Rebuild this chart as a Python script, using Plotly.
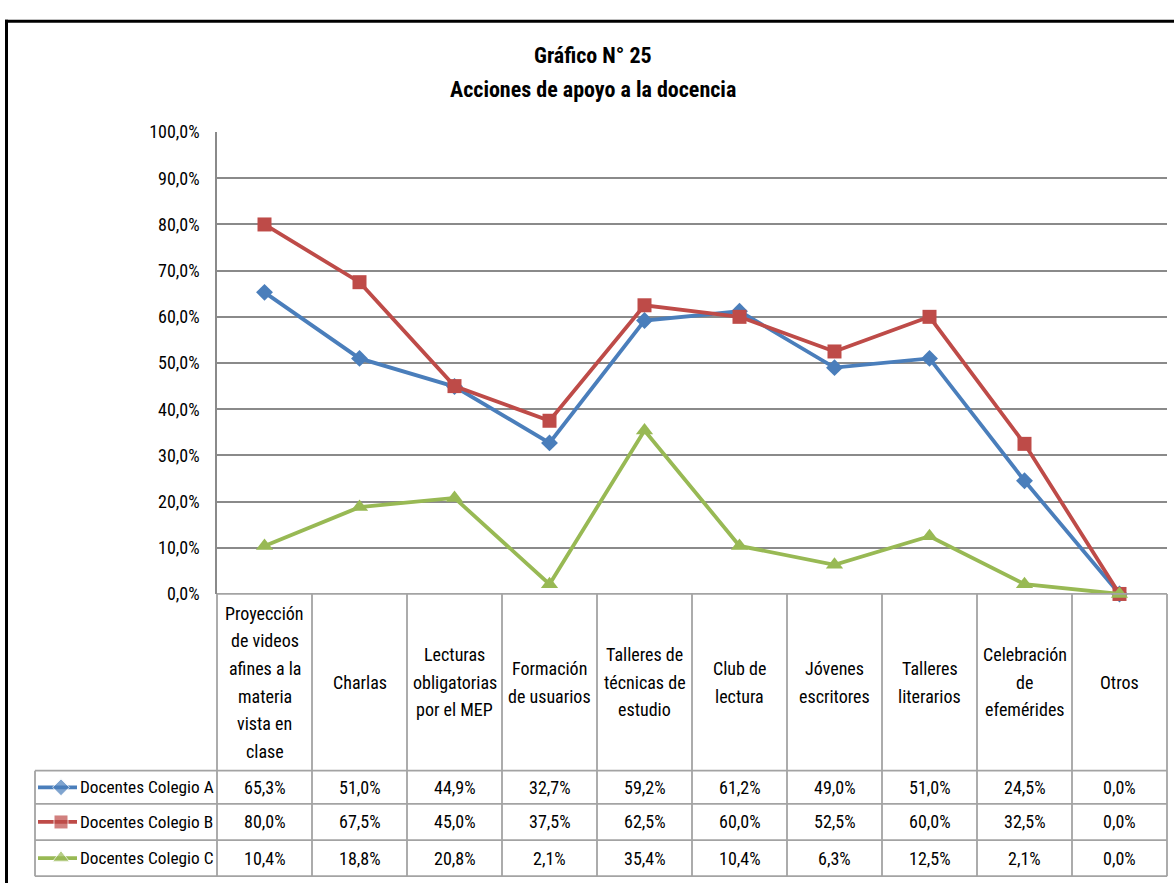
import plotly.graph_objects as go

# ---------------- data ----------------
categories = [
    "Proyección<br>de videos<br>afines a la<br>materia<br>vista en<br>clase",
    "Charlas",
    "Lecturas<br>obligatorias<br>por el MEP",
    "Formación<br>de usuarios",
    "Talleres de<br>técnicas de<br>estudio",
    "Club de<br>lectura",
    "Jóvenes<br>escritores",
    "Talleres<br>literarios",
    "Celebración<br>de<br>efemérides",
    "Otros",
]
series_names = ["Docentes Colegio A", "Docentes Colegio B", "Docentes Colegio C"]
colegio_a = [65.3, 51.0, 44.9, 32.7, 59.2, 61.2, 49.0, 51.0, 24.5, 0.0]
colegio_b = [80.0, 67.5, 45.0, 37.5, 62.5, 60.0, 52.5, 60.0, 32.5, 0.0]
colegio_c = [10.4, 18.8, 20.8, 2.1, 35.4, 10.4, 6.3, 12.5, 2.1, 0.0]
y_ticks = [0, 10, 20, 30, 40, 50, 60, 70, 80, 90, 100]
title_lines = ["Gráfico N° 25", "Acciones de apoyo a la docencia"]

# ---------------- styling / layout ----------------
W, H = 1174, 893
PLOT_L, PLOT_R = 217, 1167
PLOT_T, PLOT_B = 124, 597
TABLE_L = 35
ROW_LINES = [778, 812, 849, 886]
FONT = "Liberation Sans Narrow, Roboto Condensed, Roboto, Arial, sans-serif"
TXT = "#000000"
GRID = "#8a8a8a"
TLINE = "#a3a3a3"
colors = ["#4A7EBB", "#BE4B48", "#98B954"]
symbols = ["diamond", "square", "triangle-up"]
msizes = [13, 14, 15]
all_values = [colegio_a, colegio_b, colegio_c]

n = len(categories)
xs = list(range(n))
col_w = (PLOT_R - PLOT_L) / n

fig = go.Figure()

# main series
for name, vals, c, s, ms in zip(series_names, all_values, colors, symbols, msizes):
    fig.add_trace(go.Scatter(
        x=xs, y=vals, name=name, mode="lines+markers",
        line=dict(color=c, width=3.8),
        marker=dict(symbol=s, size=ms, color=c),
        cliponaxis=False, showlegend=False,
        xaxis="x", yaxis="y",
    ))

# legend keys in table (pixel overlay axes)
for i, (c, s, ms) in enumerate(zip(colors, symbols, msizes)):
    yc = (ROW_LINES[i] + ROW_LINES[i + 1]) / 2
    fig.add_trace(go.Scatter(
        x=[38, 61, 77], y=[yc, yc, yc], mode="lines+markers",
        line=dict(color=c, width=3.8),
        marker=dict(symbol=s, size=[0, ms, 0], color=c),
        showlegend=False, hoverinfo="skip", cliponaxis=False,
        xaxis="x2", yaxis="y2",
    ))

shapes = []
annotations = []

def line(x0, y0, x1, y1, color, width):
    shapes.append(dict(type="line", xref="x2", yref="y2", x0=x0, y0=y0,
                       x1=x1, y1=y1, line=dict(color=color, width=width),
                       layer="below"))

# table grid
for k in range(n + 1):
    xk = PLOT_L + k * col_w
    line(xk, PLOT_B, xk, ROW_LINES[-1], TLINE, 1.8)
line(TABLE_L, ROW_LINES[0], TABLE_L, ROW_LINES[-1], TLINE, 1.8)
for yk in ROW_LINES:
    line(TABLE_L, yk, PLOT_R, yk, TLINE, 1.8)
line(PLOT_L, PLOT_B, PLOT_R, PLOT_B, TLINE, 1.8)

# outer black frame (left and top)
shapes.append(dict(type="line", xref="x2", yref="y2", x0=6.5, y0=9, x1=6.5, y1=H,
                   line=dict(color="#000", width=3)))
shapes.append(dict(type="line", xref="x2", yref="y2", x0=5, y0=10.5, x1=W, y1=10.5,
                   line=dict(color="#000", width=3)))

# title
for t, ty in zip(title_lines, [46, 80]):
    annotations.append(dict(x=593, y=ty, xref="x2", yref="y2", text="<b>" + t + "</b>",
                            showarrow=False, font=dict(family=FONT, size=22, color=TXT),
                            xanchor="center", yanchor="middle"))

# category header labels
LINE_SP = 28.3
HDR_C = (PLOT_B + ROW_LINES[0]) / 2
for k, cat in enumerate(categories):
    parts = cat.split("<br>")
    m = len(parts)
    xc = PLOT_L + (k + 0.5) * col_w
    for j, p in enumerate(parts):
        yy = HDR_C + (j - (m - 1) / 2) * LINE_SP
        annotations.append(dict(x=xc, y=yy, xref="x2", yref="y2", text=p,
                                showarrow=False, font=dict(family=FONT, size=18, color=TXT),
                                xanchor="center", yanchor="middle"))

# data rows
for i, (name, vals) in enumerate(zip(series_names, all_values)):
    yc = (ROW_LINES[i] + ROW_LINES[i + 1]) / 2
    annotations.append(dict(x=78, y=yc, xref="x2", yref="y2", text=name,
                            showarrow=False, font=dict(family=FONT, size=17.3, color=TXT),
                            xanchor="left", yanchor="middle"))
    for k, v in enumerate(vals):
        xc = PLOT_L + (k + 0.5) * col_w
        annotations.append(dict(x=xc, y=yc, xref="x2", yref="y2",
                                text=f"{v:.1f}".replace(".", ",") + "%",
                                showarrow=False, font=dict(family=FONT, size=18, color=TXT),
                                xanchor="center", yanchor="middle"))

fig.update_layout(
    width=W, height=H,
    margin=dict(l=0, r=0, t=0, b=0),
    paper_bgcolor="white", plot_bgcolor="rgba(0,0,0,0)",
    showlegend=False,
    xaxis=dict(domain=[PLOT_L / W, PLOT_R / W], range=[-0.5, n - 0.5],
               showgrid=False, zeroline=False, showticklabels=False, ticks="",
               showline=False, fixedrange=True, anchor="y"),
    yaxis=dict(domain=[1 - PLOT_B / H, 1 - PLOT_T / H], range=[0, 100],
               tickvals=y_ticks,
               ticktext=[f"{t:.1f}".replace(".", ",") + "%" for t in y_ticks],
               showgrid=True, gridcolor=GRID, gridwidth=1.5, zeroline=False,
               showline=True, linecolor=GRID, linewidth=1.5, ticks="",
               ticklabelstandoff=12,
               tickfont=dict(family=FONT, size=18, color=TXT),
               fixedrange=True, anchor="x"),
    xaxis2=dict(domain=[0, 1], range=[0, W], visible=False, fixedrange=True, anchor="y2"),
    yaxis2=dict(domain=[0, 1], range=[H, 0], visible=False, fixedrange=True, anchor="x2"),
    shapes=shapes,
    annotations=annotations,
)

fig.write_html("out.html")
